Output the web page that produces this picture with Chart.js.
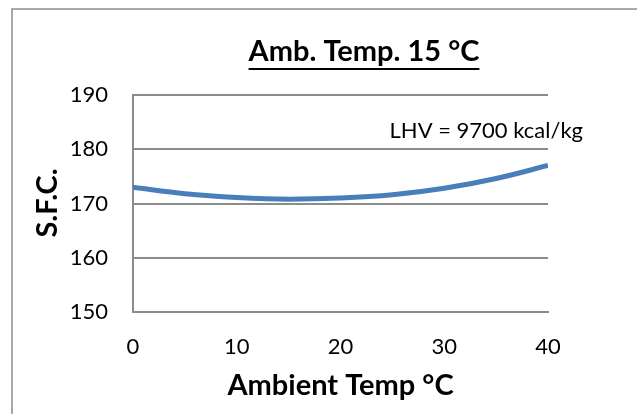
<!DOCTYPE html>
<html>
<head>
<meta charset="utf-8">
<script src="https://cdn.jsdelivr.net/npm/chart.js@4/dist/chart.umd.min.js"></script>
<style>
  html, body { margin: 0; padding: 0; background: #fff; }
  #wrap { position: relative; width: 637px; height: 414px; }
</style>
</head>
<body>
<div id="wrap"><canvas id="grafico-sfc" width="637" height="414"></canvas></div>
<script>
// dados
const temperaturas = [0, 5, 10, 15, 20, 25, 30, 35, 40];
const consumoSFC = [173, 171.8, 171.1, 170.8, 171, 171.6, 172.8, 174.6, 177];
const ticksX = [0, 10, 20, 30, 40];
const ticksY = [150, 160, 170, 180, 190];

const tituloGrafico = "Amb. Temp. 15 °C";
const tituloX = "Ambient Temp °C";
const tituloY = "S.F.C.";
const notaLHV = "LHV = 9700 kcal/kg";

const CINZA = "#8c8c8c";

// textos e moldura desenhados à mão
const textosPlugin = {
  id: "textos",
  afterDraw(chart) {
    const ctx = chart.ctx;
    const area = chart.chartArea;
    ctx.save();

    // moldura externa
    ctx.strokeStyle = CINZA;
    ctx.lineWidth = 1.5;
    ctx.strokeRect(12, 9, 700, 500);

    ctx.fillStyle = "#000";
    ctx.textBaseline = "middle";

    // título sublinhado
    ctx.font = "bold 29px Lato";
    ctx.textAlign = "center";
    const cx = 364;
    ctx.fillText(tituloGrafico, cx, 52);
    const w = ctx.measureText(tituloGrafico).width;
    ctx.fillRect(cx - w / 2, 68, w, 2);

    // nota LHV
    ctx.font = "22px Lato";
    ctx.textAlign = "right";
    ctx.fillText(notaLHV, 583, 131);

    // título eixo x
    ctx.font = "bold 29px Lato";
    ctx.textAlign = "center";
    ctx.fillText(tituloX, (area.left + area.right) / 2, 386);

    // título eixo y
    ctx.translate(48, 203);
    ctx.rotate(-Math.PI / 2);
    ctx.fillText(tituloY, 0, 0);

    ctx.restore();
  }
};

new Chart(document.getElementById("grafico-sfc"), {
  type: "line",
  data: {
    datasets: [{
      data: temperaturas.map((t, i) => ({ x: t, y: consumoSFC[i] })),
      borderColor: "#4a7ebb",
      borderWidth: 5,
      pointRadius: 0,
      cubicInterpolationMode: "monotone",
      fill: false
    }]
  },
  options: {
    responsive: false,
    animation: false,
    layout: { padding: { left: 0, top: 95, right: 89, bottom: 0 } },
    plugins: { legend: { display: false }, tooltip: { enabled: false } },
    scales: {
      x: {
        type: "linear",
        min: 0,
        max: 40,
        afterFit(scale) { scale.height = 102; },
        afterBuildTicks(scale) { scale.ticks = ticksX.map(v => ({ value: v })); },
        grid: { display: false, drawTicks: false },
        border: { display: true, color: CINZA, width: 2 },
        ticks: { color: "#000", padding: 22, font: { family: "Lato", size: 22 } }
      },
      y: {
        min: 150,
        max: 190,
        afterFit(scale) { scale.width = 133; },
        afterBuildTicks(scale) { scale.ticks = ticksY.map(v => ({ value: v })); },
        grid: { color: CINZA, lineWidth: 2, drawTicks: false },
        border: { display: true, color: CINZA, width: 2 },
        ticks: { color: "#000", padding: 25, font: { family: "Lato", size: 22 } }
      }
    }
  },
  plugins: [textosPlugin]
});
</script>
</body>
</html>
